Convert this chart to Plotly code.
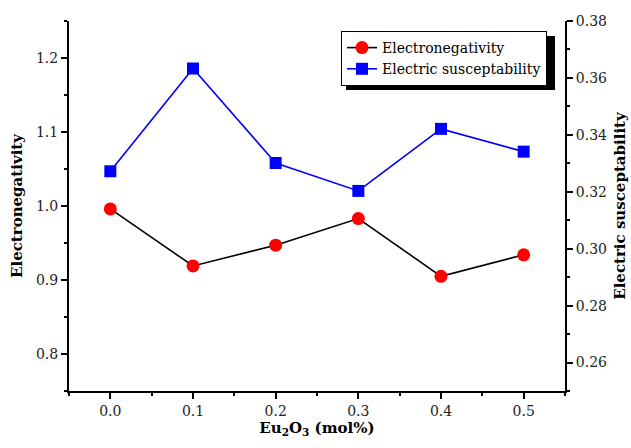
import plotly.graph_objects as go

x_vals = [0.0, 0.1, 0.2, 0.3, 0.4, 0.5]
electronegativity = [0.996, 0.919, 0.947, 0.983, 0.905, 0.934]
susceptibility = [0.3272, 0.3633, 0.3301, 0.3203, 0.3421, 0.3341]

FONT = "DejaVu Serif"

fig = go.Figure()
fig.add_trace(go.Scatter(
    x=x_vals, y=electronegativity, name="Electronegativity",
    mode="lines+markers",
    line=dict(color="black", width=1.6),
    marker=dict(symbol="circle", size=13, color="red"),
    yaxis="y",
))
fig.add_trace(go.Scatter(
    x=x_vals, y=susceptibility, name="Electric susceptability",
    mode="lines+markers",
    line=dict(color="blue", width=1.6),
    marker=dict(symbol="square", size=12, color="blue"),
    yaxis="y2",
))

axis_common = dict(
    showgrid=False, zeroline=False, showline=True, linecolor="black", linewidth=2,
    ticks="outside", ticklen=6, tickwidth=2, tickcolor="black", automargin=False,
    tickfont=dict(family=FONT, size=14, color="#222"),
)

fig.update_layout(
    width=631, height=448,
    margin=dict(l=69, r=66, t=21, b=57),
    plot_bgcolor="white", paper_bgcolor="white",
    font=dict(family=FONT, color="black"),
    xaxis=dict(
        range=[-0.05, 0.55], dtick=0.1, tick0=0, tickformat=".1f",
        minor=dict(dtick=0.05, ticklen=3, tickwidth=2, tickcolor="black", ticks="outside"),
        title=dict(text="<b>Eu<sub>2</sub>O<sub>3</sub> (mol%)</b>", font=dict(family=FONT, size=15), standoff=4),
        **axis_common,
    ),
    yaxis=dict(
        range=[0.75, 1.25], dtick=0.1, tick0=0.8, tickformat=".1f",
        minor=dict(dtick=0.05, ticklen=3, tickwidth=2, tickcolor="black", ticks="outside"),
        title=dict(text="<b>Electronegativity</b>", font=dict(family=FONT, size=15), standoff=10),
        **axis_common,
    ),
    yaxis2=dict(
        range=[0.25, 0.38], dtick=0.02, tick0=0.26, tickformat=".2f",
        overlaying="y", side="right", anchor="x",
        minor=dict(dtick=0.01, ticklen=3, tickwidth=2, tickcolor="black", ticks="outside"),
        title=dict(text="<b>Electric susceptability</b>", font=dict(family=FONT, size=15), standoff=8),
        **axis_common,
    ),
    legend=dict(
        x=(341 - 69) / 496, y=(391 - 31) / 370, xanchor="left", yanchor="top",
        bgcolor="white", bordercolor="black", borderwidth=1,
        font=dict(family=FONT, size=14, color="black"),
        itemwidth=30, tracegroupgap=0,
    ),
    showlegend=True,
)

fig.add_shape(type="rect", xref="paper", yref="paper",
              x0=(346 - 69) / 496, x1=(555 - 69) / 496,
              y0=(391 - 90) / 370, y1=(391 - 36) / 370,
              fillcolor="black", line=dict(width=0), layer="above")

fig.write_html("out.html")
